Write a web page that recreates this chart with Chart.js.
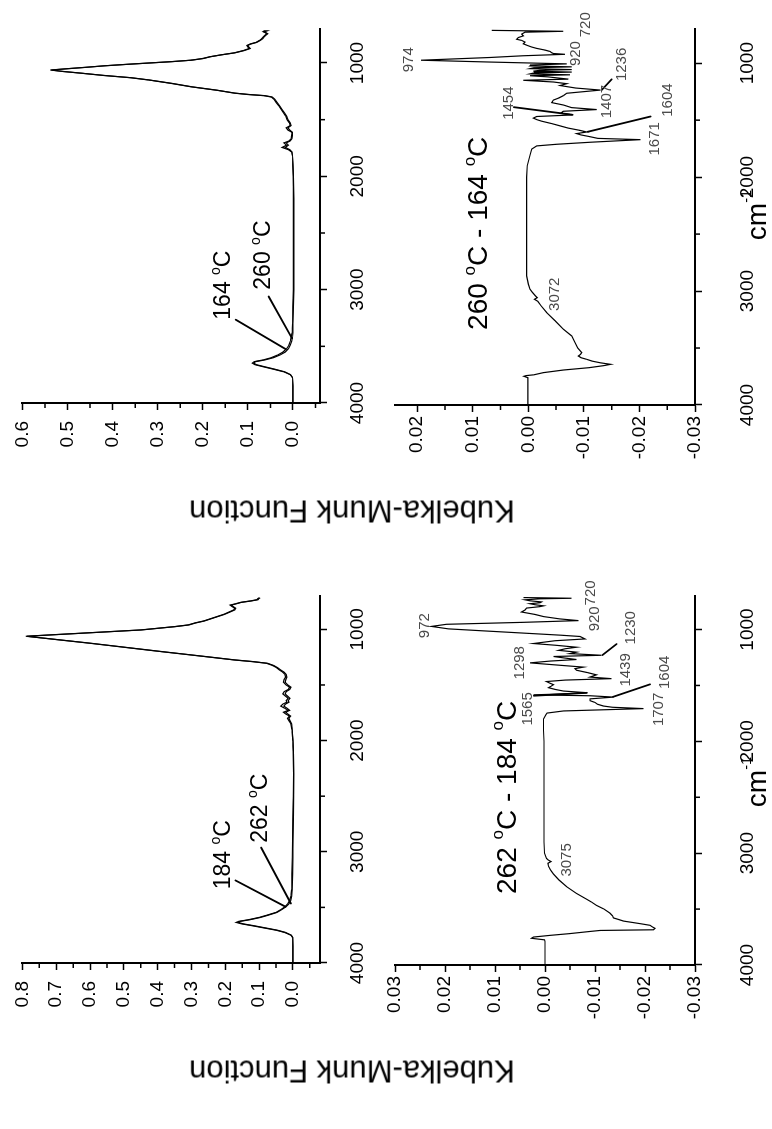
<!DOCTYPE html>
<html>
<head>
<meta charset="utf-8">
<script src="https://cdn.jsdelivr.net/npm/chart.js@4.4.1/dist/chart.umd.min.js"></script>
<style>
  html, body { margin: 0; padding: 0; background: #fff; }
  body { width: 772px; height: 1129px; overflow: hidden; position: relative; }
  /* the figure is laid out landscape and turned a quarter turn counter-clockwise */
  #fig { position: absolute; left: 0; top: 0; width: 1129px; height: 772px;
         transform-origin: 0 0; transform: translate(0, 1129px) rotate(-90deg); background: #fff; }
  #fig canvas { position: absolute; left: 0; top: 0; }
  .ytitle { position: absolute; white-space: nowrap; font: 31px 'Liberation Sans', Arial, sans-serif;
            line-height: 1; color: #000; transform: translate(-50%, -50%) rotate(-90deg); }
  .xtitle { position: absolute; white-space: nowrap; font: 28px 'Liberation Sans', Arial, sans-serif;
            line-height: 1; color: #000; transform: translateX(-50%); }
  .xtitle sup { font-size: 0.52em; vertical-align: baseline; position: relative; top: -1.05em; }
</style>
</head>
<body>
<div id="fig">
  <canvas id="pA" width="1129" height="772"></canvas>
  <canvas id="pB" width="1129" height="772"></canvas>
  <canvas id="pC" width="1129" height="772"></canvas>
  <canvas id="pD" width="1129" height="772"></canvas>
  <div class="ytitle" style="left:58px; top:352px;">Kubelka-Munk Function</div>
  <div class="ytitle" style="left:618px; top:352px;">Kubelka-Munk Function</div>
  <div class="xtitle" style="left:347px; top:743px;">cm<sup>-1</sup></div>
  <div class="xtitle" style="left:914px; top:743px;">cm<sup>-1</sup></div>
</div>
<script>
const FONT = "'Liberation Sans', Arial, Helvetica, sans-serif";

// ---- axis ticks ----
const WN_TICKS = [1000, 2000, 3000, 4000];
const WN_MINOR = [1500, 2500, 3500];
const KM_TICKS_A = [0, 0.1, 0.2, 0.3, 0.4, 0.5, 0.6, 0.7, 0.8];
const KM_MINOR_A = [-0.05, 0.05, 0.15, 0.25, 0.35, 0.45, 0.55, 0.65, 0.75];
const KM_TICKS_B = [0, 0.1, 0.2, 0.3, 0.4, 0.5, 0.6];
const KM_MINOR_B = [-0.05, 0.05, 0.15, 0.25, 0.35, 0.45, 0.55];
const KM_TICKS_C = [-0.03, -0.02, -0.01, 0, 0.01, 0.02, 0.03];
const KM_MINOR_C = [-0.025, -0.015, -0.005, 0.005, 0.015, 0.025];
const KM_TICKS_D = [-0.03, -0.02, -0.01, 0, 0.01, 0.02];
const KM_MINOR_D = [-0.025, -0.015, -0.005, 0.005, 0.015];

// ---- spectra at 184 and 262 °C ----
const wnA = [
  4000, 3850, 3770, 3750, 3725, 3705, 3685, 3665, 3648, 3635,
  3625, 3610, 3590, 3570, 3545, 3520, 3495, 3470, 3440, 3400,
  3340, 3200, 3050, 2900, 2700, 2500, 2300, 2100, 2000, 1900,
  1850, 1820, 1800, 1780, 1760, 1745, 1728, 1710, 1690, 1672,
  1655, 1640, 1620, 1600, 1580, 1560, 1540, 1520, 1500, 1475,
  1450, 1430, 1405, 1385, 1365, 1345, 1325, 1305, 1290, 1275,
  1250, 1225, 1200, 1175, 1150, 1125, 1100, 1080, 1062, 1050,
  1035, 1020, 1005, 990, 975, 960, 942, 925, 905, 885,
  865, 845, 825, 810, 795, 782, 770, 757, 744, 733,
  724, 716];
const km184 = [
  0, 0, 0.001, 0.006, 0.025, 0.05, 0.085, 0.12, 0.152, 0.168,
  0.16, 0.13, 0.1, 0.077, 0.05, 0.036, 0.024, 0.016, 0.01, 0.006,
  0.004, 0.003, 0.002, 0.001, 0, -0.001, -0.002, -0.001, 0, 0.003,
  0.006, 0.012, 0.016, 0.01, 0.022, 0.028, 0.014, 0.024, 0.036, 0.03,
  0.018, 0.02, 0.014, 0.022, 0.03, 0.026, 0.014, 0.01, 0.02, 0.028,
  0.026, 0.022, 0.024, 0.03, 0.04, 0.048, 0.06, 0.078, 0.12, 0.174,
  0.245, 0.317, 0.39, 0.46, 0.53, 0.6, 0.675, 0.735, 0.79, 0.72,
  0.63, 0.54, 0.45, 0.4, 0.35, 0.31, 0.29, 0.265, 0.245, 0.225,
  0.205, 0.19, 0.175, 0.172, 0.18, 0.186, 0.17, 0.155, 0.125, 0.106,
  0.104, 0.1];
const km262 = [
  0, 0, 0.001, 0.005, 0.022, 0.046, 0.08, 0.115, 0.147, 0.162,
  0.155, 0.126, 0.096, 0.073, 0.047, 0.033, 0.021, 0.012, 0.007, 0.004,
  0.002, 0.001, 0, 0, -0.001, -0.002, -0.002, -0.001, 0, 0.002,
  0.004, 0.009, 0.012, 0.007, 0.016, 0.021, 0.01, 0.017, 0.027, 0.022,
  0.012, 0.014, 0.009, 0.016, 0.023, 0.02, 0.009, 0.006, 0.015, 0.023,
  0.021, 0.018, 0.02, 0.026, 0.036, 0.045, 0.057, 0.075, 0.117, 0.171,
  0.242, 0.314, 0.387, 0.457, 0.527, 0.597, 0.672, 0.732, 0.786, 0.716,
  0.626, 0.536, 0.447, 0.397, 0.347, 0.307, 0.287, 0.262, 0.242, 0.222,
  0.202, 0.187, 0.172, 0.169, 0.177, 0.183, 0.167, 0.152, 0.122, 0.103,
  0.101, 0.097];

// ---- spectra at 164 and 260 °C ----
const wnB = [
  4000, 3850, 3775, 3750, 3725, 3700, 3680, 3662, 3648, 3635,
  3620, 3600, 3575, 3550, 3520, 3490, 3455, 3420, 3380, 3300,
  3150, 3000, 2800, 2600, 2400, 2200, 2000, 1900, 1820, 1785,
  1765, 1745, 1725, 1705, 1688, 1668, 1640, 1612, 1592, 1572,
  1552, 1528, 1500, 1470, 1440, 1410, 1380, 1350, 1320, 1300,
  1288, 1278, 1266, 1240, 1210, 1180, 1150, 1130, 1110, 1090,
  1075, 1062, 1050, 1038, 1025, 1012, 1000, 988, 975, 960,
  945, 928, 910, 890, 872, 858, 845, 832, 818, 800,
  785, 770, 755, 742, 732, 724, 718];
const km164 = [
  0, 0, 0.001, 0.006, 0.02, 0.045, 0.066, 0.084, 0.09, 0.086,
  0.066, 0.048, 0.033, 0.022, 0.014, 0.009, 0.006, 0.004, 0.002, 0.001,
  0, -0.001, -0.001, -0.001, -0.001, -0.001, -0.001, 0, 0.001, 0.003,
  0.01, 0.024, 0.014, 0.02, 0.009, 0.004, 0.003, 0.002, 0.011, 0.015,
  0.006, 0.008, 0.013, 0.016, 0.021, 0.026, 0.031, 0.037, 0.042, 0.048,
  0.065, 0.1, 0.13, 0.17, 0.226, 0.27, 0.32, 0.36, 0.42, 0.47,
  0.51, 0.538, 0.5, 0.46, 0.42, 0.37, 0.32, 0.27, 0.226, 0.2,
  0.185, 0.16, 0.13, 0.11, 0.097, 0.1, 0.102, 0.095, 0.082, 0.074,
  0.069, 0.066, 0.062, 0.058, 0.062, 0.066, 0.061];
const km260 = [
  0, 0, 0.001, 0.005, 0.018, 0.042, 0.063, 0.081, 0.087, 0.083,
  0.062, 0.043, 0.028, 0.017, 0.01, 0.006, 0.003, 0.001, 0, 0,
  -0.001, -0.002, -0.002, -0.002, -0.002, -0.002, -0.001, 0, 0.001, 0.002,
  0.007, 0.017, 0.01, 0.015, 0.006, 0.002, 0.001, 0.001, 0.007, 0.011,
  0.004, 0.006, 0.011, 0.014, 0.019, 0.024, 0.029, 0.035, 0.04, 0.046,
  0.062, 0.097, 0.128, 0.168, 0.224, 0.268, 0.318, 0.358, 0.418, 0.468,
  0.508, 0.536, 0.498, 0.458, 0.418, 0.368, 0.318, 0.268, 0.224, 0.198,
  0.183, 0.158, 0.128, 0.108, 0.095, 0.098, 0.1, 0.093, 0.08, 0.072,
  0.067, 0.064, 0.06, 0.056, 0.06, 0.064, 0.059];

// ---- difference 262 °C - 184 °C ----
const wnC = [
  4000, 3900, 3790, 3775, 3761, 3750, 3735, 3719, 3700, 3691,
  3685, 3672, 3660, 3645, 3630, 3607, 3590, 3579, 3560, 3537,
  3500, 3467, 3440, 3411, 3360, 3299, 3240, 3187, 3150, 3117,
  3090, 3075, 3060, 3047, 3000, 2900, 2500, 2200, 2000, 1900,
  1800, 1760, 1747, 1728, 1707, 1695, 1684, 1668, 1652, 1636,
  1620, 1604, 1592, 1584, 1575, 1565, 1550, 1535, 1520, 1507,
  1493, 1480, 1465, 1452, 1439, 1425, 1405, 1385, 1364, 1350,
  1336, 1317, 1298, 1282, 1268, 1255, 1241, 1230, 1215, 1202,
  1186, 1172, 1158, 1140, 1125, 1100, 1084, 1062, 1050, 1035,
  1015, 994, 972, 953, 935, 920, 905, 884, 865, 843,
  825, 808, 795, 788, 778, 769, 760, 753, 743, 734,
  725, 720, 714];
const dKmC = [
  0, 0, 0, 0.0001, 0.0027, 0.0023, -0.001, -0.005, -0.009, -0.011,
  -0.0217, -0.022, -0.0215, -0.021, -0.019, -0.0157, -0.0145, -0.0137, -0.0135, -0.013,
  -0.0118, -0.0103, -0.0094, -0.0083, -0.0063, -0.0043, -0.0028, -0.0017, -0.0011, -0.0007,
  -0.0006, -0.0012, -0.0006, -0.0003, 0.0001, 0.0002, 0.0002, 0.0002, 0.0002, 0.0003,
  0.0003, -0.0002, -0.0004, -0.0037, -0.0197, -0.0135, -0.0117, -0.0105, -0.01, -0.009,
  -0.009, -0.0137, -0.009, 0.0023, -0.004, -0.0085, -0.0037, -0.002, -0.0007, -0.0012,
  -0.0017, -0.001, -0.0003, -0.004, -0.0133, -0.009, -0.0103, -0.0085, -0.0063, -0.006,
  -0.0077, -0.0023, 0.003, -0.001, -0.0063, -0.004, -0.0017, -0.0113, -0.005, -0.0063,
  -0.0027, -0.004, -0.0063, -0.002, 0.0023, -0.002, -0.008, -0.007, -0.003, 0.003,
  0.011, 0.0193, 0.0227, 0.0197, 0.004, -0.0067, -0.003, 0.0003, 0.002, 0.0047,
  0.004, 0.0037, 0.001, 0.0003, 0.002, 0.003, 0.001, 0.0007, 0.003, 0.004,
  0.001, -0.0053, 0.0043];

// ---- difference 260 °C - 164 °C ----
const wnD = [
  4000, 3900, 3800, 3760, 3748, 3742, 3735, 3716, 3693, 3672,
  3655, 3643, 3630, 3615, 3599, 3585, 3570, 3555, 3540, 3500,
  3452, 3394, 3335, 3260, 3189, 3130, 3090, 3072, 3058, 3043,
  3010, 2984, 2940, 2867, 2600, 2300, 2000, 1900, 1808, 1754,
  1726, 1712, 1694, 1671, 1660, 1645, 1630, 1618, 1604, 1590,
  1570, 1550, 1530, 1509, 1495, 1482, 1468, 1454, 1440, 1422,
  1407, 1390, 1367, 1346, 1324, 1305, 1285, 1264, 1236, 1218,
  1196, 1180, 1165, 1150, 1140, 1120, 1110, 1102, 1094, 1086,
  1078, 1070, 1063, 1056, 1048, 1040, 1032, 1024, 1016, 1006,
  990, 974, 950, 935, 922, 915, 908, 897, 885, 870,
  858, 842, 830, 815, 800, 790, 775, 760, 745, 728,
  720, 712];
const dKmD = [
  0.0001, 0.0001, 0.0001, 0.0001, 0.0008, 0.0004, -0.001, -0.0027, -0.0063, -0.011,
  -0.0135, -0.0148, -0.013, -0.0115, -0.0105, -0.0095, -0.009, -0.0094, -0.0096, -0.0089,
  -0.0084, -0.0078, -0.0063, -0.0048, -0.0033, -0.0023, -0.0017, -0.0011, -0.0016, -0.0013,
  -0.0007, -0.0003, 0, 0.0003, 0.0003, 0.0003, 0.0003, 0.0002, -0.0003, -0.0006,
  -0.0015, -0.005, -0.0111, -0.0202, -0.0125, -0.0111, -0.0095, -0.0087, -0.0105, -0.0093,
  -0.0072, -0.0057, -0.0042, -0.0024, -0.0015, -0.0009, -0.0015, -0.0081, -0.0058, -0.0063,
  -0.0123, -0.0078, -0.0063, -0.0042, -0.0045, -0.0055, -0.0063, -0.0069, -0.013, -0.0085,
  -0.0057, -0.0069, -0.0045, 0.0009, -0.0072, -0.0035, -0.0003, -0.0075, -0.0003, -0.001,
  -0.0078, -0.0009, -0.002, -0.0078, -0.0003, -0.001, -0.0078, -0.0003, -0.0005, -0.0069,
  0.0069, 0.0193, 0.0069, 0.001, -0.0066, -0.0045, -0.0042, -0.0039, -0.003, -0.0015,
  -0.0006, 0.0003, 0.0009, 0.0006, 0.0012, 0.0021, 0.0018, 0.0009, 0.0012, 0.0006,
  -0.0063, 0.0066];

// ---- text marks: [text, wavenumber, value] ----
const PEAKS_C = [['972', 965, 0.0242], ['920', 904, -0.0098], ['720', 672, -0.009], ['1230', 984, -0.017],
  ['1298', 1297, 0.0052], ['1439', 1361, -0.0159], ['1565', 1710, 0.0036], ['1604', 1383, -0.0237],
  ['1707', 1714, -0.0225], ['3075', 3060, -0.0042]];
const PEAKS_D = [['974', 970, 0.0217], ['920', 916, -0.0083], ['720', 663, -0.0101], ['1236', 1011, -0.0166],
  ['1407', 1337, -0.0139], ['1454', 1351, 0.0038], ['1604', 1324, -0.0249], ['1671', 1664, -0.0226],
  ['3072', 3028, -0.0046]];

// split "164 ^{o}C" into plain and raised pieces
function richParts(text) {
  const parts = []; const re = /\^\{([^}]*)\}/g; let last = 0, m;
  while ((m = re.exec(text))) {
    if (m.index > last) parts.push({ t: text.slice(last, m.index), sup: false });
    parts.push({ t: m[1], sup: true }); last = re.lastIndex;
  }
  if (last < text.length) parts.push({ t: text.slice(last), sup: false });
  return parts;
}
// y is the vertical middle of the digits
function drawRich(ctx, text, x, y, size, align, color) {
  const parts = richParts(text);
  const supSize = Math.round(size * 0.62);
  let total = 0;
  parts.forEach(p => { ctx.font = `${p.sup ? supSize : size}px ${FONT}`; p.w = ctx.measureText(p.t).width; total += p.w; });
  let cx = align === 'center' ? x - total / 2 : (align === 'right' ? x - total : x);
  const base = y + size * 0.358;
  ctx.fillStyle = color; ctx.textAlign = 'left'; ctx.textBaseline = 'alphabetic';
  parts.forEach(p => {
    ctx.font = `${p.sup ? supSize : size}px ${FONT}`;
    ctx.fillText(p.t, cx, p.sup ? base - size * 0.43 : base);
    cx += p.w;
  });
}

// minor ticks, leader lines and labels, placed through the chart scales
function notesPlugin(notes, yMinor) {
  return {
    id: 'notes',
    afterDraw(chart) {
      const { ctx, chartArea: a, scales: { x, y } } = chart;
      ctx.save();
      ctx.strokeStyle = '#000'; ctx.lineWidth = 1.5;
      ctx.beginPath();
      WN_MINOR.forEach(w => { const px = x.getPixelForValue(w); ctx.moveTo(px, a.bottom); ctx.lineTo(px, a.bottom + 5); });
      yMinor.forEach(v => { const py = y.getPixelForValue(v); ctx.moveTo(a.left, py); ctx.lineTo(a.left - 5, py); });
      ctx.stroke();
      ctx.lineWidth = 1.8; ctx.lineCap = 'round';
      (notes.leaders || []).forEach(([w1, v1, w2, v2]) => {
        ctx.beginPath();
        ctx.moveTo(x.getPixelForValue(w1), y.getPixelForValue(v1));
        ctx.lineTo(x.getPixelForValue(w2), y.getPixelForValue(v2));
        ctx.stroke();
      });
      (notes.texts || []).forEach(n => drawRich(ctx, n.t, x.getPixelForValue(n.w), y.getPixelForValue(n.v), n.size, n.align, n.color || '#000'));
      (notes.peaks || []).forEach(([t, w, v]) => drawRich(ctx, t, x.getPixelForValue(w), y.getPixelForValue(v), 15, 'center', '#4a4a4a'));
      ctx.restore();
    }
  };
}

function panel(id, box, yMin, yMax, yTicks, yMinor, decimals, yPad, xPad, series, notes) {
  const datasets = series.map(s => ({
    data: s.wn.map((w, i) => ({ x: w, y: s.km[i] })),
    borderColor: '#000', borderWidth: 1.2, pointRadius: 0, tension: 0, fill: false
  }));
  return new Chart(document.getElementById(id), {
    type: 'line',
    data: { datasets },
    options: {
      responsive: false, animation: false, events: [],
      layout: { padding: { left: box.L - 110, right: 1129 - box.R, top: box.T, bottom: 772 - box.B - 60 } },
      plugins: { legend: { display: false }, tooltip: { enabled: false } },
      scales: {
        x: {
          type: 'linear', reverse: true, min: 700, max: 4000,
          afterBuildTicks: s => { s.ticks = WN_TICKS.map(v => ({ value: v })); },
          afterFit: s => { s.height = 60; },
          grid: { drawOnChartArea: false, drawTicks: true, tickLength: 7, tickWidth: 1.5, tickColor: '#000' },
          border: { display: true, color: '#000', width: 2 },
          ticks: { color: '#000', font: { family: FONT, size: 19 }, padding: xPad, maxRotation: 0, autoSkip: false,
                   callback: v => String(v) }
        },
        y: {
          type: 'linear', min: yMin, max: yMax,
          afterBuildTicks: s => { s.ticks = yTicks.map(v => ({ value: v })); },
          afterFit: s => { s.width = 110; },
          grid: { drawOnChartArea: false, drawTicks: true, tickLength: 7, tickWidth: 1.5, tickColor: '#000' },
          border: { display: true, color: '#000', width: 2 },
          ticks: { color: '#000', font: { family: FONT, size: 19 }, padding: yPad, autoSkip: false,
                   callback: v => Number(v).toFixed(decimals) }
        }
      }
    },
    plugins: [notesPlugin(notes, yMinor)]
  });
}

// upper left: spectra at 184 and 262 °C
panel('pA', { L: 166, R: 533, T: 20, B: 320 }, -0.08, 0.8, KM_TICKS_A, KM_MINOR_A, 1, 11, 19,
  [{ wn: wnA, km: km184 }, { wn: wnA, km: km262 }],
  { texts: [{ t: '184 ^{o}C', w: 3337, v: 0.21, size: 23, align: 'left' },
            { t: '262 ^{o}C', w: 2919, v: 0.101, size: 23, align: 'left' }],
    leaders: [[3257, 0.17, 3494, 0.022], [2962, 0.094, 3465, 0.006]] });

// upper right: spectra at 164 and 260 °C
panel('pB', { L: 726, R: 1100, T: 20, B: 320 }, -0.06, 0.6, KM_TICKS_B, KM_MINOR_B, 1, 11, 19,
  [{ wn: wnB, km: km164 }, { wn: wnB, km: km260 }],
  { texts: [{ t: '164 ^{o}C', w: 3265, v: 0.157, size: 23, align: 'left' },
            { t: '260 ^{o}C', w: 3000, v: 0.069, size: 23, align: 'left' }],
    leaders: [[3265, 0.127, 3525, 0.016], [3060, 0.054, 3429, 0.002]] });

// lower left: 262 °C - 184 °C
panel('pC', { L: 164, R: 533, T: 395, B: 695 }, -0.03, 0.03, KM_TICKS_C, KM_MINOR_C, 2, 4, 34,
  [{ wn: wnC, km: dKmC }],
  { texts: [{ t: '262 ^{o}C - 184 ^{o}C', w: 2501, v: 0.0079, size: 28, align: 'center' }],
    peaks: PEAKS_C,
    leaders: [[1130, -0.0143, 1228, -0.0115], [1592, 0.0022, 1566, -0.0083], [1490, -0.021, 1602, -0.0136]] });

// lower right: 260 °C - 164 °C
panel('pD', { L: 724, R: 1100, T: 395, B: 695 }, -0.03, 0.024, KM_TICKS_D, KM_MINOR_D, 2, 4, 34,
  [{ wn: wnD, km: dKmD }],
  { texts: [{ t: '260 ^{o}C - 164 ^{o}C', w: 2493, v: 0.0092, size: 28, align: 'center' }],
    peaks: PEAKS_D,
    leaders: [[1142, -0.015, 1236, -0.0132], [1386, 0.0026, 1452, -0.0079], [1468, -0.022, 1602, -0.0107]] });
</script>
</body>
</html>
